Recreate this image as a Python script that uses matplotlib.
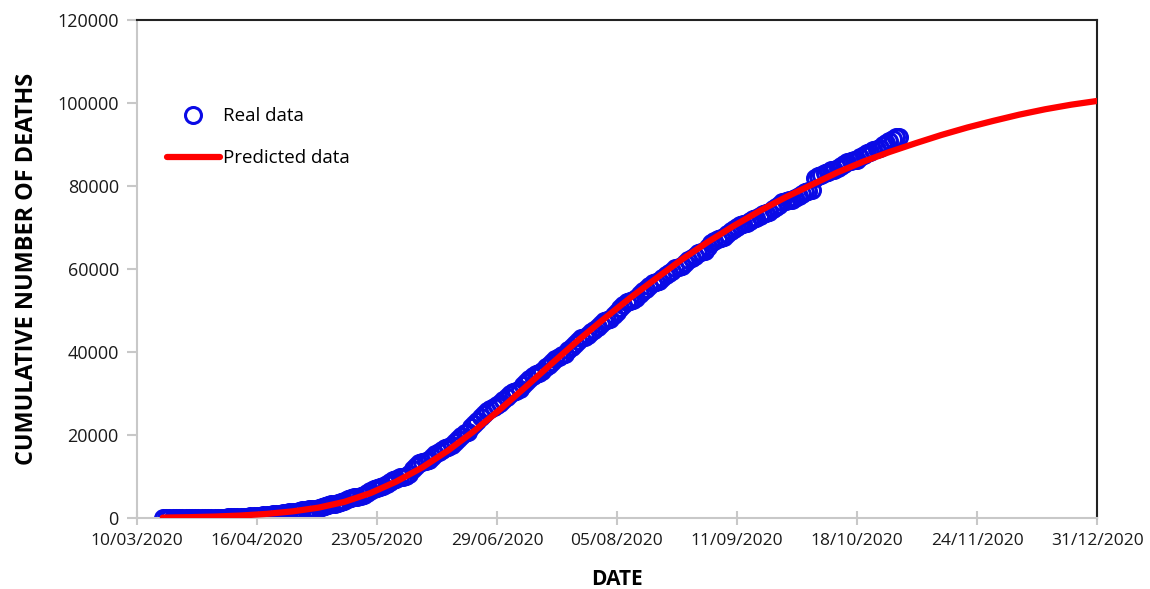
import numpy as np
import pandas as pd
import matplotlib
matplotlib.use("Agg")
import matplotlib.pyplot as plt
import matplotlib.dates as mdates

# real cumulative deaths, one value per day starting 18/03/2020
real_start = "2020-03-18"
real_deaths = [
    1, 1, 2, 2, 2, 4, 5, 6, 8, 12, 16, 20, 28, 29,
    37, 50, 60, 79, 94, 125, 141, 174, 194, 233, 273, 296, 332, 406, 449,
    486, 546, 650, 686, 712, 857, 970, 1069, 1221, 1305, 1351, 1434, 1569, 1732, 1859,
    1972, 2061, 2154, 2271, 2507, 2704, 2961, 3160, 3353, 3465, 3573, 3926, 4220, 4477,
    4767, 5045, 5177, 5332, 5666, 6090, 6510, 6989, 7179, 7394, 7633, 8134, 8597, 9044,
    9415, 9779, 9930,
    10167, 10637, 11729, 12545, 13170, 13511, 13699, 14053, 14649, 15357, 15944, 16448,
    16872, 17141, 17580, 18310, 19080, 19747, 20394, 20781, 21825, 22584, 23377, 24324,
    25060, 25779, 26381, 26648, 27121, 27769,
    28510, 29189, 29843, 30366, 30639, 31119, 32014, 32796, 33526, 34191, 34730, 35006,
    35491, 36327, 36906, 37574, 38310, 38888, 39184, 39485, 40400, 41190, 41908, 42645,
    43374, 43680, 44022, 44876, 45361, 46000, 46688,
    47472, 47746, 48012, 48869, 49698, 50517, 51311, 52006, 52298, 52581, 53003, 53929,
    54666, 55293, 55908, 56543, 56757, 57023, 57774, 58481, 59106, 59610, 60254, 60480,
    60800, 61450, 62076, 62594, 63146, 63819, 64158,
    64414, 65241, 66329, 66851, 67326, 67558, 67781, 68484, 69049, 69649, 70183, 70604,
    70821, 71049, 71678, 71978, 72179, 72803, 73258, 73493, 73697, 74348, 74949, 75439,
    76243, 76430, 76603, 76740, 77163, 77646,
    78078, 78492, 78880, 79088, 81877, 82348, 82726, 83096, 83497, 83781, 83945, 84420,
    84898, 85285, 85704, 86059, 86167, 86338, 86893, 87415, 87894, 88312, 88743, 88924,
    89171, 89814, 90309, 90773, 91289, 91753, 91895,
]

# predicted curve, read every 8 days from 18/03/2020 to 31/12/2020
pred_start = "2020-03-18"
pred_step_days = 8
pred_deaths = [
    100, 200, 350, 600, 1000, 1600, 2500, 3900, 6000, 8800, 12200, 16300, 21000,
    26200, 31700, 37300, 42800, 48000, 53000, 57700, 62300, 66500, 70400, 74000,
    77300, 80300, 83300, 85900, 88200, 90300, 92300, 94100, 95700, 97200, 98500,
    99600, 100500,
]

tick_dates = pd.date_range("2020-03-10", "2020-12-31", freq="37D")
y_ticks = [0, 20000, 40000, 60000, 80000, 100000, 120000]

real_dates = pd.date_range(real_start, periods=len(real_deaths), freq="D")
pred_dates = pd.date_range(pred_start, periods=len(pred_deaths), freq=f"{pred_step_days}D")

plt.rcParams['font.family'] = ['Open Sans', 'DejaVu Sans']

fig = plt.figure(figsize=(11.5, 5.89), dpi=100)
ax = fig.add_axes([0.119, 0.1205, 0.835, 0.8455])

ax.plot(real_dates, real_deaths, linestyle='none', marker='o', markersize=11.5,
        markerfacecolor='none', markeredgecolor='#0a0ae6', markeredgewidth=2.2,
        label='Real data', zorder=2)
ax.plot(pred_dates, pred_deaths, color='#ff0000', linewidth=4.5,
        solid_capstyle='round', label='Predicted data', zorder=3)

ax.set_xlim(tick_dates[0], tick_dates[-1])
ax.set_ylim(0, 120000)
ax.set_xticks(tick_dates)
ax.xaxis.set_major_formatter(mdates.DateFormatter('%d/%m/%Y'))
ax.set_yticks(y_ticks)

for side in ['left', 'bottom']:
    ax.spines[side].set_color('#c8c8c8')
    ax.spines[side].set_linewidth(1.5)
for side in ['top', 'right']:
    ax.spines[side].set_color('#222222')
    ax.spines[side].set_linewidth(1.5)

ax.tick_params(axis='y', direction='out', length=7, width=1.5, color='#c8c8c8',
               labelsize=13, pad=6, labelcolor='#1a1a1a')
ax.tick_params(axis='x', direction='inout', length=10, width=1.5, color='#c8c8c8',
               labelsize=12.5, pad=6, labelcolor='#1a1a1a')

ax.set_xlabel('DATE', fontsize=15, fontweight='bold', labelpad=14)
ax.set_ylabel('CUMULATIVE NUMBER OF DEATHS', fontsize=16.8, fontweight='bold', labelpad=13)

ax.legend(loc='upper left', bbox_to_anchor=(0.014, 0.859), frameon=False,
          fontsize=13.5, handlelength=2.8, handletextpad=0.2, labelspacing=1.3,
          numpoints=1)

fig.savefig('out.png', dpi=100)
